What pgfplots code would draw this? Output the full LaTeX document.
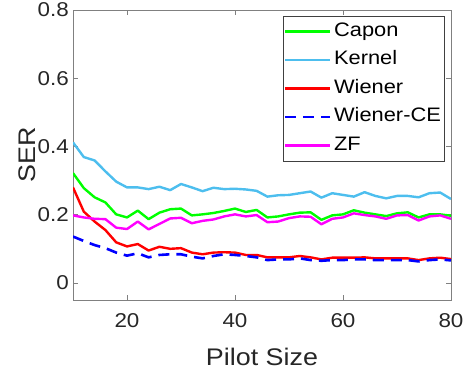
\documentclass[border=0pt]{standalone}
\usepackage{pgfplots}
\pgfplotsset{compat=1.18}
\usepackage{pgfplotstable}
\usepackage{fontspec}
\setmainfont{Liberation Sans}[FakeStretch=1.12]
\definecolor{cgreen}{rgb}{0,1,0}
\definecolor{ckernel}{rgb}{0.301,0.745,0.933}
\definecolor{cred}{rgb}{1,0,0}
\definecolor{cblue}{rgb}{0,0,1}
\definecolor{cmag}{rgb}{1,0,1}
\definecolor{axgray}{rgb}{0.5,0.5,0.5}
\definecolor{txt}{rgb}{0.15,0.15,0.15}
\pgfplotstableread{
x capon kernel wiener wce zf
10 0.322 0.412 0.280 0.136 0.198
12 0.278 0.369 0.209 0.123 0.192
14 0.251 0.359 0.180 0.111 0.188
16 0.236 0.327 0.155 0.102 0.187
18 0.201 0.297 0.119 0.089 0.162
20 0.192 0.280 0.107 0.080 0.158
22 0.212 0.280 0.114 0.087 0.180
24 0.187 0.275 0.095 0.075 0.157
26 0.206 0.282 0.106 0.082 0.173
28 0.216 0.272 0.100 0.084 0.189
30 0.218 0.290 0.102 0.084 0.191
32 0.198 0.280 0.089 0.077 0.175
34 0.201 0.269 0.084 0.072 0.182
36 0.205 0.279 0.089 0.079 0.186
38 0.211 0.275 0.090 0.084 0.195
40 0.218 0.276 0.089 0.082 0.201
42 0.208 0.274 0.082 0.079 0.195
44 0.214 0.270 0.082 0.075 0.199
46 0.192 0.253 0.075 0.067 0.178
48 0.195 0.257 0.075 0.069 0.180
50 0.201 0.258 0.075 0.069 0.190
52 0.206 0.263 0.079 0.072 0.195
54 0.207 0.268 0.075 0.067 0.194
56 0.185 0.250 0.069 0.065 0.172
58 0.198 0.263 0.074 0.067 0.188
60 0.201 0.258 0.074 0.067 0.192
62 0.213 0.253 0.074 0.069 0.204
64 0.206 0.266 0.075 0.069 0.199
66 0.201 0.255 0.072 0.067 0.195
68 0.196 0.248 0.072 0.067 0.188
70 0.204 0.255 0.072 0.067 0.198
72 0.207 0.255 0.072 0.067 0.199
74 0.192 0.251 0.067 0.063 0.183
76 0.201 0.263 0.072 0.067 0.195
78 0.201 0.265 0.074 0.069 0.198
80 0.197 0.246 0.070 0.066 0.188
}\datatable
\begin{document}
\begin{tikzpicture}
\begin{axis}[
  scale only axis,
  width=378pt, height=290pt,
  xmin=10, xmax=80, ymin=-0.05, ymax=0.8,
  xtick={20,40,60,80},
  ytick={0,0.2,0.4,0.6,0.8},
  yticklabels={0,0.2,0.4,0.6,0.8},
  /pgf/number format/assume math mode=true,
  tick align=inside,
  major tick length=5pt,
  axis line style={draw=axgray, line width=0.6pt},
  tick style={draw=axgray, line width=0.6pt},
  ticklabel style={font=\fontsize{20}{24}\selectfont, text=txt},
  xticklabel style={anchor=north, inner sep=0pt, yshift=-13pt},
  yticklabel style={anchor=east, inner sep=0pt, xshift=-4pt},
  xlabel={Pilot Size},
  ylabel={SER},
  label style={font=\fontsize{24}{28}\selectfont, text=txt},
  xlabel style={at={(axis description cs:0.5,-0.197)}, anchor=center},
  ylabel style={at={(axis description cs:-0.122,0.5)}, anchor=center, rotate=0},
  legend cell align=left,
  legend image code/.code={\draw[#1] (0pt,0pt) -- (45pt,0pt);},
  legend style={at={(axis description cs:0.982,0.979)}, anchor=north east,
    draw=black!75, line width=0.6pt, fill=white,
    font=\fontsize{19.5}{23}\selectfont,
    inner xsep=0pt, inner ysep=1pt, row sep=0pt,
    nodes={inner sep=3pt, text height=16pt, text depth=6.5pt}},
  every axis plot/.append style={line width=2.4pt, line join=round},
]
\addplot[cgreen] table[x=x, y=capon] {\datatable};
\addlegendentry{Capon}
\addplot[ckernel] table[x=x, y=kernel] {\datatable};
\addlegendentry{Kernel}
\addplot[cred] table[x=x, y=wiener] {\datatable};
\addlegendentry{Wiener}
\addplot[cblue, line width=2.6pt, dash pattern=on 11pt off 7pt] table[x=x, y=wce] {\datatable};
\addlegendentry{Wiener-CE}
\addplot[cmag] table[x=x, y=zf] {\datatable};
\addlegendentry{ZF}
\end{axis}
\pgfresetboundingbox
\path (-73pt,-70pt) rectangle (392pt,300pt);
\end{tikzpicture}
\end{document}
